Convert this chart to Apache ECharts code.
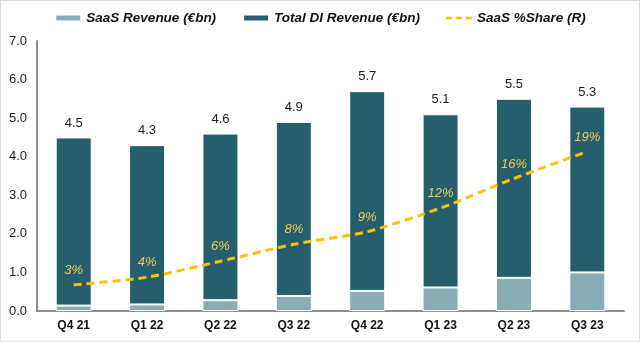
<!DOCTYPE html>
<html>
<head>
<meta charset="utf-8">
<script src="https://cdn.jsdelivr.net/npm/echarts@6/dist/echarts.min.js"></script>
<style>
  html, body { margin: 0; padding: 0; background: #fff; }
  #chart { width: 640px; height: 342px; box-sizing: border-box; border: 1px solid #dcdcdc; }
</style>
</head>
<body>
<div id="chart"></div>
<script>
// Quarterly Digital Industries revenue and SaaS share
const quarters = ['Q4 21', 'Q1 22', 'Q2 22', 'Q3 22', 'Q4 22', 'Q1 23', 'Q2 23', 'Q3 23'];
const totalRevenue = [4.5, 4.3, 4.6, 4.9, 5.7, 5.1, 5.5, 5.3];
const saasRevenue = [0.14, 0.17, 0.28, 0.39, 0.52, 0.61, 0.86, 1.0];
const saasShare = [0.031, 0.040, 0.059, 0.079, 0.094, 0.122, 0.157, 0.189];
const yTicks = [0, 1, 2, 3, 4, 5, 6, 7];

// The dark segment sits on top of the SaaS segment so the stack reaches the total
const nonSaas = totalRevenue.map((t, i) => +(t - saasRevenue[i]).toFixed(2));

const font = 'Liberation Sans, Arial, sans-serif';
const gold = '#FFC000';
// three short dashes used as the legend key of the share line
const dashIcon = 'path://M0,0h7v3h-7z M11,0h7v3h-7z M22,0h7v3h-7z';

const chart = echarts.init(document.getElementById('chart'), null, { renderer: 'canvas' });

chart.setOption({
  animation: false,
  textStyle: { fontFamily: font },
  legend: {
    top: 5,
    left: 'center',
    itemWidth: 26,
    itemHeight: 7,
    itemGap: 26,
    textStyle: { fontFamily: font, fontSize: 13.5, fontWeight: 'bold', fontStyle: 'italic', color: '#111' },
    data: [
      { name: 'SaaS Revenue (€bn)', icon: 'rect' },
      { name: 'Total DI Revenue (€bn)', icon: 'rect' },
      { name: 'SaaS %Share (R)', icon: dashIcon, itemStyle: { color: gold, opacity: 1 } }
    ]
  },
  grid: { left: 36, right: 15, top: 40, bottom: 30, containLabel: false },
  xAxis: {
    type: 'category',
    data: quarters,
    axisLine: { lineStyle: { color: '#8f8f8f', width: 2 } },
    axisTick: { show: false },
    axisLabel: { fontFamily: font, fontSize: 12, fontWeight: 'bold', color: '#111', margin: 9 }
  },
  yAxis: [
    {
      type: 'value',
      min: yTicks[0],
      max: yTicks[yTicks.length - 1],
      interval: 1,
      axisLine: { show: true, lineStyle: { color: '#8f8f8f', width: 2 } },
      axisTick: { show: false },
      splitLine: { show: false },
      axisLabel: { fontFamily: font, fontSize: 13, color: '#222', margin: 10, formatter: v => v.toFixed(1) }
    },
    {
      type: 'value',
      min: 0,
      max: 0.32,
      show: false,
      splitLine: { show: false }
    }
  ],
  series: [
    {
      name: 'SaaS Revenue (€bn)',
      type: 'bar',
      stack: 'rev',
      barWidth: 36,
      data: saasRevenue,
      itemStyle: { color: '#8AADB5', borderColor: '#fff', borderWidth: 1 }
    },
    {
      name: 'Total DI Revenue (€bn)',
      type: 'bar',
      stack: 'rev',
      barWidth: 36,
      data: nonSaas,
      itemStyle: { color: '#255E6C', borderColor: '#fff', borderWidth: 1 },
      label: {
        show: true,
        position: 'top',
        distance: 8,
        fontFamily: font,
        fontSize: 13,
        color: '#1a1a1a',
        formatter: p => totalRevenue[p.dataIndex].toFixed(1)
      }
    },
    {
      name: 'SaaS %Share (R)',
      type: 'line',
      yAxisIndex: 1,
      data: saasShare,
      smooth: 0.25,
      showSymbol: true,
      symbol: 'circle',
      symbolSize: 0.1,
      lineStyle: { color: gold, width: 3, type: [8, 5] },
      itemStyle: { color: gold },
      label: {
        show: true,
        position: 'top',
        distance: 8,
        fontFamily: font,
        fontSize: 13,
        fontStyle: 'italic',
        color: '#F0CB5A',
        formatter: p => Math.round(p.value * 100) + '%'
      },
      z: 5
    }
  ]
});
</script>
</body>
</html>
